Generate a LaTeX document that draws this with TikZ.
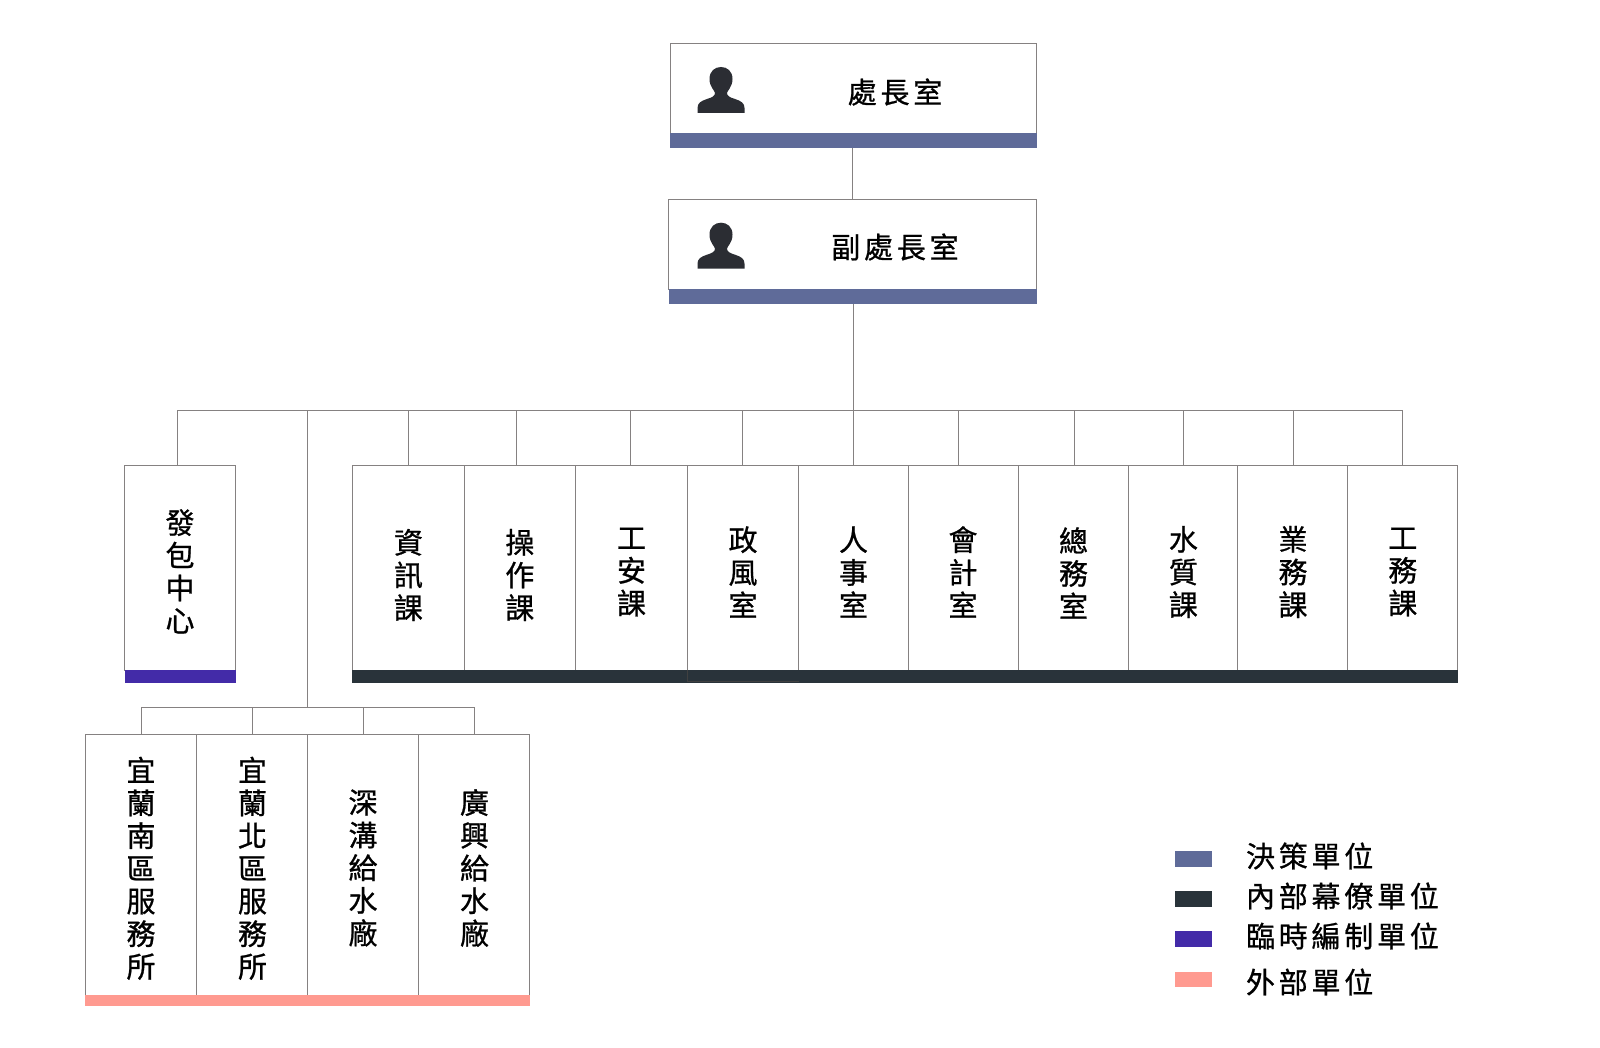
\documentclass[tikz,border=0pt]{standalone}
\usepackage{fontspec}
\setmainfont{Noto Sans CJK TC}[LetterSpace=13,FakeBold=0.8]
\definecolor{linec}{HTML}{858181}
\definecolor{decide}{HTML}{5F6B99}
\definecolor{inner}{HTML}{29333A}
\definecolor{temp}{HTML}{432BA8}
\definecolor{outer}{HTML}{FF9A90}
\definecolor{iconc}{HTML}{2B2D33}
\tikzset{
  conn/.style={draw=linec,line width=1pt},
  orgbox/.style={draw=linec,line width=1pt,fill=white,anchor=north west,inner sep=0pt,outer sep=0pt,minimum width=#1},
  bar/.style={fill=#1,draw=none,anchor=north west,inner sep=0pt,outer sep=0pt},
  lbl/.style={inner sep=0pt,outer sep=0pt,align=center,text=black,font=\fontsize{29}{32.7}\selectfont},
  leg/.style={inner sep=0pt,outer sep=0pt,anchor=west,text=black,font=\fontsize{29}{32.7}\selectfont},
  person/.pic={
    \fill[iconc] (-23.5,46) -- (-23.5,41) .. controls (-23.5,36) and (-20,34) .. (-14,32)
      .. controls (-9,30.5) and (-6,29) .. (-6,26) .. controls (-6,24) and (-11.5,20) .. (-11.5,12)
      .. controls (-11.5,4) and (-6,0) .. (0,0) .. controls (6,0) and (11.5,4) .. (11.5,12)
      .. controls (11.5,20) and (6,24) .. (6,26) .. controls (6,29) and (9,30.5) .. (14,32)
      .. controls (20,34) and (23.5,36) .. (23.5,41) -- (23.5,46) -- cycle;
  }
}
\begin{document}
\begin{tikzpicture}[x=1pt,y=-1pt]
\useasboundingbox (0,0) rectangle (1600,1048);
% top boxes
\node[orgbox=366pt,minimum height=91pt] (chief) at (670,43.5) {};
\node[bar=decide,minimum width=366.5pt,minimum height=15pt] (chiefbar) at (670,133.5) {};
\node[orgbox=367.5pt,minimum height=90pt] (deputy) at (668.5,200) {};
\node[bar=decide,minimum width=368pt,minimum height=15pt] (deputybar) at (668.5,289.5) {};
\pic at (721,67) {person};
\pic at (721,222.7) {person};
\node[lbl] (chieft) at (895,92) {處長室};
\node[lbl] (deputyt) at (895,247) {副處長室};
% contract centre
\node[orgbox=110.5pt,minimum height=205pt] (contract) at (124.5,465.7) {};
\node[bar=temp,minimum width=111.5pt,minimum height=13pt] (contractbar) at (124.7,670) {};
\node[lbl] (contractt) at (180,571.4) {發\\包\\中\\心};
% internal row
\node[orgbox=112.1pt,minimum height=205pt] (d1) at (352.6,465.7) {};
\node[orgbox=111pt,minimum height=205pt] (d2) at (464.7,465.7) {};
\node[orgbox=111.3pt,minimum height=205pt] (d3) at (575.7,465.7) {};
\node[orgbox=111.7pt,minimum height=205pt] (d4) at (687,465.7) {};
\node[orgbox=109.5pt,minimum height=205pt] (d5) at (798.7,465.7) {};
\node[orgbox=110.2pt,minimum height=205pt] (d6) at (908.2,465.7) {};
\node[orgbox=109.6pt,minimum height=205pt] (d7) at (1018.4,465.7) {};
\node[orgbox=109.8pt,minimum height=205pt] (d8) at (1128,465.7) {};
\node[orgbox=109.8pt,minimum height=205pt] (d9) at (1237.8,465.7) {};
\node[orgbox=109.9pt,minimum height=205pt] (d10) at (1347.6,465.7) {};
\node[bar=inner,minimum width=1105.5pt,minimum height=13pt] (innerbar) at (352.2,670) {};
\draw[black!75,line width=.6pt] (687,670) -- (687,681.7) -- (798.7,681.7);
\node[lbl] (t1) at (408.4,575) {資\\訊\\課};
\node[lbl] (t2) at (519.8,575) {操\\作\\課};
\node[lbl] (t3) at (631.5,572) {工\\安\\課};
\node[lbl] (t4) at (743,572) {政\\風\\室};
\node[lbl] (t5) at (853.5,572) {人\\事\\室};
\node[lbl] (t6) at (963,572) {會\\計\\室};
\node[lbl] (t7) at (1073.5,573) {總\\務\\室};
\node[lbl] (t8) at (1183.4,572) {水\\質\\課};
\node[lbl] (t9) at (1293,572) {業\\務\\課};
\node[lbl] (t10) at (1402.8,572) {工\\務\\課};
% external row
\node[orgbox=111.3pt,minimum height=261pt] (e1) at (85,734.5) {};
\node[orgbox=111.3pt,minimum height=261pt] (e2) at (196.3,734.5) {};
\node[orgbox=111.3pt,minimum height=261pt] (e3) at (307.6,734.5) {};
\node[orgbox=110.6pt,minimum height=261pt] (e4) at (418.9,734.5) {};
\node[bar=outer,minimum width=445.5pt,minimum height=11pt] (outerbar) at (84.7,995) {};
\node[lbl] (x1) at (141,868.3) {宜\\蘭\\南\\區\\服\\務\\所};
\node[lbl] (x2) at (252.5,868.3) {宜\\蘭\\北\\區\\服\\務\\所};
\node[lbl] (x3) at (363,868) {深\\溝\\給\\水\\廠};
\node[lbl] (x4) at (474.5,868) {廣\\興\\給\\水\\廠};
% connectors
\coordinate (xa) at (852,148);
\coordinate (xb) at (853.7,410.7);
\coordinate (busl) at (177,410.7);
\coordinate (busr) at (1402.8,410.7);
\coordinate (trunk) at (307.4,410.7);
\coordinate (subc) at (307.4,707);
\coordinate (subl) at (141,707);
\coordinate (subr) at (474.5,707);
\draw[conn] (chiefbar.south -| xa) -- (deputy.north -| xa);
\draw[conn] (deputybar.south -| xb) -- (xb);
\draw[conn] (busl) -- (busr);
\draw[conn] (busl) -- (contract.north -| busl);
\draw[conn] (busr) -- (d10.north -| busr);
\draw[conn] (trunk) -- (subc);
\draw[conn] (subl) -- (subr);
\foreach \xx/\bx in {408/d1,516.8/d2,630.7/d3,742.7/d4,853.7/d5,958.8/d6,1074/d7,1183.8/d8,1293/d9}
  \draw[conn] (\xx,410.7) -- (\bx.north -| {(\xx,410.7)});
\draw[conn] (subl) -- (e1.north -| subl);
\foreach \xx/\bx in {252/e2,363/e3}
  \draw[conn] (\xx,707) -- (\bx.north -| {(\xx,707)});
\draw[conn] (subr) -- (e4.north -| subr);
% legend
\node[bar=decide,minimum width=37pt,minimum height=15.5pt] (s1) at (1174.5,851) {};
\node[bar=inner,minimum width=37pt,minimum height=15.5pt] (s2) at (1174.5,891) {};
\node[bar=temp,minimum width=37pt,minimum height=15.5pt] (s3) at (1174.5,931) {};
\node[bar=outer,minimum width=37pt,minimum height=15.5pt] (s4) at (1174.5,971.5) {};
\node[leg] (l1) at (1246,856) {決策單位};
\node[leg] (l2) at (1246,896) {內部幕僚單位};
\node[leg] (l3) at (1246,936) {臨時編制單位};
\node[leg] (l4) at (1246,982) {外部單位};
\end{tikzpicture}
\end{document}
